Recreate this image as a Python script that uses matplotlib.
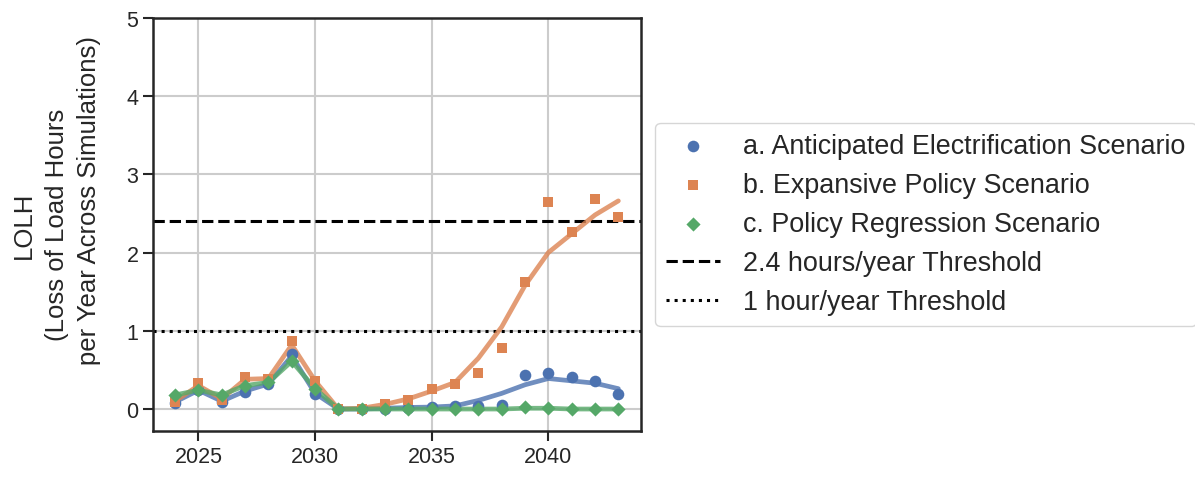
import numpy as np
import matplotlib.pyplot as plt
import seaborn as sns

sns.set_theme(style="ticks", palette="deep")
plt.rcParams['font.family'] = ['Liberation Sans', 'DejaVu Sans']

years = np.arange(2024, 2044)

# yearly LOLH values per scenario
lolh_a = [0.08, 0.24, 0.09, 0.22, 0.32, 0.70, 0.19, 0.0, 0.0, 0.0, 0.01, 0.02, 0.035,
          0.04, 0.055, 0.43, 0.46, 0.41, 0.36, 0.19]
lolh_b = [0.09, 0.33, 0.11, 0.41, 0.39, 0.87, 0.36, 0.0, 0.0, 0.07, 0.12, 0.25, 0.32,
          0.46, 0.78, 1.62, 2.65, 2.26, 2.68, 2.46]
lolh_c = [0.18, 0.24, 0.18, 0.30, 0.34, 0.61, 0.26, 0.0, 0.0, 0.0, 0.0, 0.0, 0.0,
          0.0, 0.0, 0.03, 0.01, 0.0, 0.0, 0.0]

# smoothed trend lines
trend_a = [0.09, 0.24, 0.10, 0.23, 0.32, 0.68, 0.20, 0.0, 0.0, 0.01, 0.02, 0.025, 0.04,
           0.11, 0.20, 0.31, 0.39, 0.36, 0.33, 0.26]
trend_b = [0.10, 0.30, 0.13, 0.38, 0.39, 0.82, 0.36, 0.0, 0.01, 0.06, 0.13, 0.23, 0.34,
           0.65, 1.05, 1.58, 2.00, 2.24, 2.48, 2.66]
trend_c = [0.18, 0.24, 0.18, 0.30, 0.34, 0.61, 0.26, 0.0, 0.0, 0.0, 0.0, 0.0, 0.0,
           0.0, 0.0, 0.01, 0.01, 0.0, 0.0, 0.0]

labels = ["a. Anticipated Electrification Scenario",
          "b. Expansive Policy Scenario",
          "c. Policy Regression Scenario"]
markers = ["o", "s", "D"]
sizes = [70, 62, 52]
colors = sns.color_palette("deep")[:3]

fig = plt.figure(figsize=(11.95, 4.81), dpi=100)
ax = fig.add_axes([0.128, 0.102, 0.408, 0.859])

for vals, trend, lab, m, sz, c in zip([lolh_a, lolh_b, lolh_c], [trend_a, trend_b, trend_c],
                                      labels, markers, sizes, colors):
    ax.plot(years, trend, color=c, lw=3.4, alpha=0.8, zorder=2)
    ax.scatter(years, vals, marker=m, s=sz, color=c, linewidths=0, label=lab, zorder=3)

ax.axhline(2.4, color="black", ls="--", lw=2.2, label="2.4 hours/year Threshold", zorder=1)
ax.axhline(1, color="black", ls=":", lw=2.2, label="1 hour/year Threshold", zorder=1)

ax.set_ylim(-0.28, 5)
ax.set_xticks([2025, 2030, 2035, 2040])
ax.set_yticks([0, 1, 2, 3, 4, 5])
ax.grid(True, color="#cccccc", lw=1.5)
ax.set_axisbelow(True)
for sp in ax.spines.values():
    sp.set_color("#262626")
    sp.set_linewidth(1.8)
ax.tick_params(labelsize=15.5, length=7, width=1.5, colors="#262626")
ax.set_ylabel("LOLH\n(Loss of Load Hours\n       per Year Across Simulations)",
              fontsize=18.5, color="#262626", linespacing=1.45, labelpad=18)

leg = ax.legend(loc="center left", bbox_to_anchor=(1.003, 0.5), fontsize=19.4,
                handlelength=2.0, handletextpad=0.85, frameon=True,
                labelspacing=0.48, borderpad=0.4)
leg.get_frame().set_edgecolor("#cccccc")
for t in leg.get_texts():
    t.set_color("#262626")

fig.savefig("out.png", dpi=100)
